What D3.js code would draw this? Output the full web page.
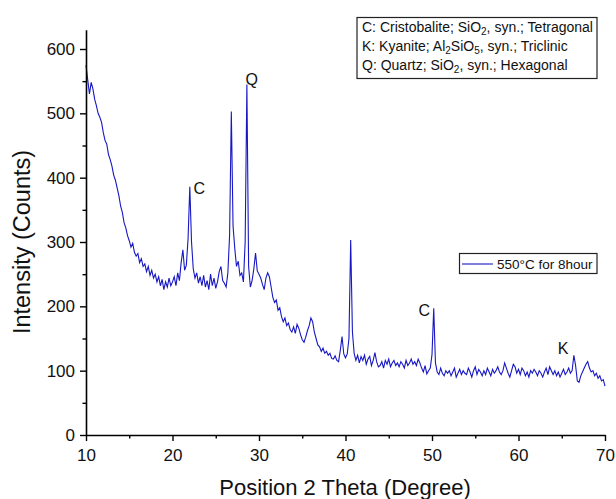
<!DOCTYPE html>
<html><head><meta charset="utf-8">
<script src="https://cdn.jsdelivr.net/npm/d3@7"></script>
<style>
html,body{margin:0;padding:0;background:#fff;}
svg text{font-family:Arial,"Liberation Sans",sans-serif;}
</style></head>
<body><svg id="c" width="616" height="499"></svg>
<script>
// ---- data ----
const thetaStart = 10, thetaStep = 0.2;   // scan grid (degrees 2θ)
const intensity = [
 575,552,530,548,538,522,512,500,494,486,
 470,458,452,436,428,418,404,396,384,372,
 356,346,330,322,310,302,292,298,284,278,
 282,268,274,262,266,254,262,248,256,244,
 250,238,246,232,242,226,238,230,244,232,
 238,246,232,252,240,268,288,256,264,305,
 386,300,258,244,252,236,246,232,248,230,
 240,226,250,232,244,228,238,254,262,240,
 236,230,252,310,503,325,290,262,270,248,
 252,238,300,545,262,230,240,258,283,255,
 250,244,234,226,244,252,246,230,214,206,
 210,194,198,184,176,182,170,174,164,160,
 168,158,172,166,156,148,144,152,162,170,
 182,176,160,150,140,137,130,135,127,130,
 124,127,119,118,123,116,114,132,153,126,
 120,126,150,303,160,127,116,124,112,122,
 116,124,110,118,122,108,116,128,114,106,
 108,114,104,116,110,118,106,112,116,108,
 112,106,114,110,104,116,108,112,118,110,
 114,108,118,112,104,98,108,95,100,104,
 125,197,112,98,94,104,96,92,100,96,
 100,92,98,104,90,96,102,94,100,96,
 94,104,98,90,100,106,94,102,98,92,
 100,94,104,98,92,102,96,100,106,98,
 94,100,112,104,96,90,100,110,106,96,
 102,94,104,100,92,98,90,100,96,102,
 98,92,100,96,90,98,104,94,106,100,
 94,100,92,98,90,96,102,94,98,104,
 96,100,124,108,84,82,92,98,104,110,
 114,104,98,100,92,96,88,92,84,86,
 76
];
const xTicks = [10,20,30,40,50,60,70];
const xMinor = [15,25,35,45,55,65];
const yTicks = [0,100,200,300,400,500,600];
const yMinor = [50,150,250,350,450,550];
const peakLabels = ["C","Q","C","K"];
const peakTheta = [23.1,29.15,49.1,65.15];
const peakValue = [375,544,185,126];
const phaseLines = [
  [["C: Cristobalite; SiO",""],["2","sub"],[", syn.; Tetragonal",""]],
  [["K: Kyanite; Al",""],["2","sub"],["SiO",""],["5","sub"],[", syn.; Triclinic",""]],
  [["Q: Quartz; SiO",""],["2","sub"],[", syn.; Hexagonal",""]]
];
const seriesName = "550°C for 8hour";

// ---- chart ----
const svg = d3.select("#c");
const x = d3.scaleLinear().domain([10,70]).range([86,605]);
const y = d3.scaleLinear().domain([0,630]).range([435,29.7]);
const data = intensity.map((v,i)=>({t: thetaStart + i*thetaStep, v}));
const blue = "#1717c4";

svg.append("path").datum(data)
  .attr("fill","none").attr("stroke",blue).attr("stroke-width",1.1)
  .attr("stroke-linejoin","miter")
  .attr("d", d3.line().x(d=>x(d.t)).y(d=>y(d.v)));

function styleAxis(g){
  g.select(".domain").attr("stroke","#000").attr("stroke-width",1.6);
  g.selectAll(".tick line").attr("stroke","#000").attr("stroke-width",1.4);
  g.selectAll(".tick text").attr("fill","#111").style("font-size","17px")
    .style("font-family","Arial, 'Liberation Sans', sans-serif");
}
const gx = svg.append("g").attr("transform","translate(0,435)")
  .call(d3.axisBottom(x).tickValues(xTicks).tickSize(6).tickSizeOuter(0).tickPadding(8).tickFormat(d3.format("d")));
styleAxis(gx);
const gxm = svg.append("g").attr("transform","translate(0,435)")
  .call(d3.axisBottom(x).tickValues(xMinor).tickSize(3.5).tickFormat(""));
gxm.select(".domain").remove();
gxm.selectAll(".tick line").attr("stroke","#000").attr("stroke-width",1.4);

const gy = svg.append("g").attr("transform","translate(86,0)")
  .call(d3.axisLeft(y).tickValues(yTicks).tickSize(6).tickSizeOuter(0).tickPadding(5).tickFormat(d3.format("d")));
styleAxis(gy);
const gym = svg.append("g").attr("transform","translate(86,0)")
  .call(d3.axisLeft(y).tickValues(yMinor).tickSize(3.5).tickFormat(""));
gym.select(".domain").remove();
gym.selectAll(".tick line").attr("stroke","#000").attr("stroke-width",1.4);

// axis titles
svg.append("text").attr("x",345).attr("y",495).attr("text-anchor","middle")
  .style("font-size","22px").attr("fill","#111").text("Position 2 Theta (Degree)");
svg.append("text").attr("transform","translate(30,242) rotate(-90)").attr("text-anchor","middle")
  .style("font-size","23.5px").attr("fill","#111").text("Intensity (Counts)");

// peak labels
peakLabels.forEach((lab,i)=>{
  svg.append("text").attr("x",x(peakTheta[i])).attr("y",y(peakValue[i]))
    .attr("text-anchor","middle").style("font-size","16px").attr("fill","#111").text(lab);
});

// phase legend box
svg.append("rect").attr("x",357).attr("y",17.5).attr("width",240).attr("height",61)
  .attr("fill","#fff").attr("stroke","#222").attr("stroke-width",1.2);
phaseLines.forEach((parts,i)=>{
  const t = svg.append("text").attr("x",362).attr("y",31.5+i*19.2)
    .style("font-size","14px").attr("fill","#111");
  let prevSub = false;
  parts.forEach(([s,k])=>{
    if(k==="sub"){ t.append("tspan").attr("dy",3.5).style("font-size","10px").text(s); prevSub = true; }
    else { t.append("tspan").attr("dy", prevSub ? -3.5 : 0).text(s); prevSub = false; }
  });
});

// series legend
svg.append("rect").attr("x",459.5).attr("y",253.5).attr("width",137.5).attr("height",20)
  .attr("fill","#fff").attr("stroke","#222").attr("stroke-width",1.2);
svg.append("line").attr("x1",462).attr("x2",493).attr("y1",264).attr("y2",264)
  .attr("stroke",blue).attr("stroke-width",1.1);
svg.append("text").attr("x",497).attr("y",268.5).style("font-size","13.5px").attr("fill","#111").text(seriesName);
</script></body></html>
